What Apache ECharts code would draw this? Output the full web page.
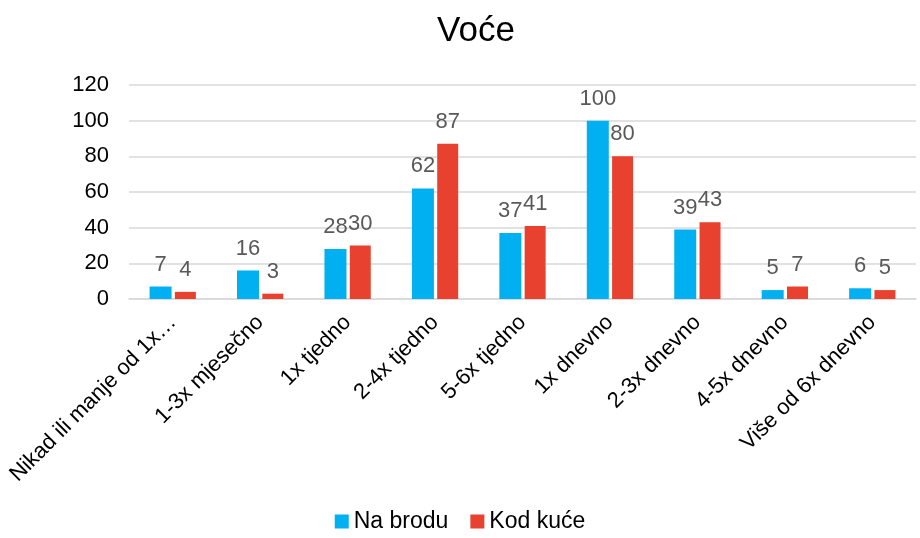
<!DOCTYPE html>
<html lang="hr">
<head>
<meta charset="UTF-8">
<script src="https://cdn.jsdelivr.net/npm/echarts@6/dist/echarts.min.js"></script>
<title>Voće</title>
<style>
  *{margin:0;padding:0}
  html,body{width:100%;height:100%;background:#fff}
</style>
</head>
<body>
<div id="main" style="width:920px;height:538px"></div>
<script type="text/javascript">
var kategorije = ['Nikad ili manje od 1x…', '1-3x mjesečno', '1x tjedno', '2-4x tjedno', '5-6x tjedno',
  '1x dnevno', '2-3x dnevno', '4-5x dnevno', 'Više od 6x dnevno'];
var naBrodu = [7, 16, 28, 62, 37, 100, 39, 5, 6];
var kodKuce = [4, 3, 30, 87, 41, 80, 43, 7, 5];
var yTicks = [0, 20, 40, 60, 80, 100, 120];

var myChart = echarts.init(document.getElementById('main'));
var font = 'Liberation Sans, Arial, sans-serif';

var labelStyle = {
  show: true,
  position: 'top',
  distance: 11,
  color: '#595959',
  fontSize: 22,
  fontFamily: font
};

var option = {
  animation: false,
  title: {
    text: 'Voće',
    left: 432,
    top: 9,
    textStyle: { fontSize: 35, fontWeight: 'normal', color: '#000', fontFamily: font }
  },
  legend: {
    bottom: 0,
    left: 'center',
    itemWidth: 14,
    itemHeight: 14,
    itemGap: 22,
    icon: 'rect',
    textStyle: { fontSize: 23, color: '#000', fontFamily: font },
    data: ['Na brodu', 'Kod kuće']
  },
  grid: { left: 129, right: 4, top: 85, bottom: 239 },
  xAxis: {
    type: 'category',
    data: kategorije,
    axisTick: { show: false },
    axisLine: { lineStyle: { color: '#d9d9d9', width: 1.5 } },
    axisLabel: {
      rotate: 45,
      interval: 0,
      margin: 20,
      fontSize: 22,
      color: '#000',
      fontFamily: font
    }
  },
  yAxis: {
    type: 'value',
    min: yTicks[0],
    max: yTicks[yTicks.length - 1],
    interval: 20,
    axisLine: { show: false },
    axisTick: { show: false },
    splitLine: { lineStyle: { color: '#d9d9d9', width: 1.5 } },
    axisLabel: { fontSize: 22, color: '#000', margin: 20, fontFamily: font }
  },
  series: [
    {
      name: 'Na brodu',
      type: 'bar',
      barWidth: 22,
      barGap: '15%',
      itemStyle: { color: '#00B0F0' },
      label: labelStyle,
      data: naBrodu
    },
    {
      name: 'Kod kuće',
      type: 'bar',
      barWidth: 21,
      itemStyle: { color: '#E8412F' },
      label: labelStyle,
      data: kodKuce
    }
  ]
};
myChart.setOption(option);
</script>
</body>
</html>
